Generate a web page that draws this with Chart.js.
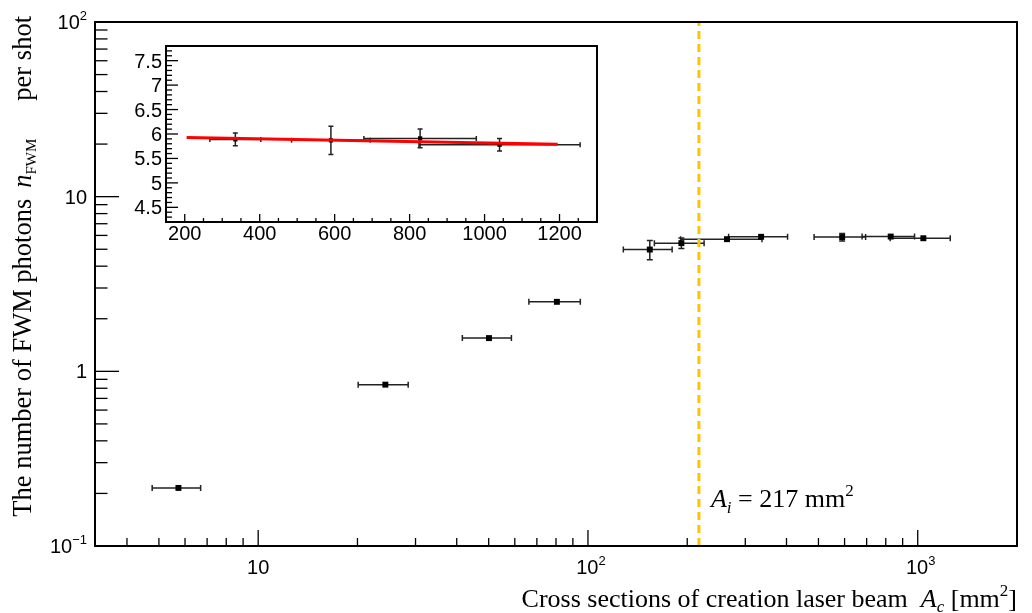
<!DOCTYPE html>
<html>
<head>
<meta charset="utf-8">
<script src="https://cdn.jsdelivr.net/npm/chart.js@4.4.1/dist/chart.umd.min.js"></script>
<style>
html, body { margin: 0; padding: 0; background: #fff; }
#wrap { position: relative; width: 1032px; height: 613px; }
#main { position: absolute; left: 0; top: 0; }
#inset { position: absolute; left: 100px; top: 35px; }
</style>
</head>
<body>
<div id="wrap">
<canvas id="main" width="1032" height="613"></canvas>
<canvas id="inset" width="510" height="215"></canvas>
</div>
<script>
// creation beam cross section A_c [mm^2] with its spread, and photons per shot
var areas     = [5.73, 24.3, 50.1, 80.5, 154, 192, 264, 335, 590, 828, 1040];
var areaErr   = [0.96, 4.2, 8.5, 14.3, 26, 33, 73, 68, 105, 150, 215];
var photons   = [0.215, 0.839, 1.55, 2.50, 4.98, 5.42, 5.71, 5.89, 5.87, 5.91, 5.78];
var photonErr = [0.004, 0.012, 0.02, 0.03, 0.63, 0.37, 0.08, 0.13, 0.29, 0.19, 0.13];

// points shown again in the inset (linear scale)
var insetFrom = 7;

// linear fit drawn in the inset
var fitX = [205, 1195];
var fitY = [5.93, 5.79];

// imaging beam cross section A_i
var imagingArea = 217;
var imagingSpan = [0.1, 100];

// tick labels: value, text, exponent
var xMajor = [10, 100, 1000];
var xLabels = [['10', ''], ['10', '2'], ['10', '3']];
var yMajor = [0.1, 1, 10, 100];
var yLabels = [['10', '\u22121'], ['1', ''], ['10', ''], ['10', '2']];
var insetXMajor = [200, 400, 600, 800, 1000, 1200];
var insetYMajor = [4.5, 5, 5.5, 6, 6.5, 7, 7.5];

function toPoints(from) {
	var pts = [];
	for (var i = from; i < areas.length; i++) {
		pts.push({x: areas[i], y: photons[i], xe: areaErr[i], ye: photonErr[i]});
	}
	return pts;
}

var errorBars = {
	id: 'errorBars',
	beforeDatasetsDraw: function (chart, args, opts) {
		var ctx = chart.ctx, xs = chart.scales.x, ys = chart.scales.y;
		var cap = opts.cap || 3;
		ctx.save();
		ctx.strokeStyle = '#222';
		ctx.lineWidth = 1.5;
		chart.data.datasets[0].data.forEach(function (p) {
			var px = xs.getPixelForValue(p.x), py = ys.getPixelForValue(p.y);
			var x0 = xs.getPixelForValue(p.x - p.xe), x1 = xs.getPixelForValue(p.x + p.xe);
			var y0 = ys.getPixelForValue(p.y - p.ye), y1 = ys.getPixelForValue(p.y + p.ye);
			ctx.beginPath();
			ctx.moveTo(x0, py); ctx.lineTo(x1, py);
			ctx.moveTo(x0, py - cap); ctx.lineTo(x0, py + cap);
			ctx.moveTo(x1, py - cap); ctx.lineTo(x1, py + cap);
			if (Math.abs(y1 - y0) > 2 * cap) {
				ctx.moveTo(px, y0); ctx.lineTo(px, y1);
				ctx.moveTo(px - cap, y0); ctx.lineTo(px + cap, y0);
				ctx.moveTo(px - cap, y1); ctx.lineTo(px + cap, y1);
			}
			ctx.stroke();
		});
		ctx.restore();
	}
};

var sans = '"Liberation Sans", Arial, sans-serif';
var serif = '"Liberation Serif", "Times New Roman", serif';

function drawRich(ctx, parts, x, y, align) {
	var total = 0;
	parts.forEach(function (p) { ctx.font = p.font; p.w = ctx.measureText(p.t).width + (p.gap || 0); total += p.w; });
	var cx = align === 'right' ? x - total : (align === 'center' ? x - total / 2 : x);
	parts.forEach(function (p) {
		ctx.font = p.font;
		ctx.fillText(p.t, cx + (p.gap || 0), y + (p.dy || 0));
		cx += p.w;
	});
}

// ROOT style frame with inward ticks and tick labels
var frameTicks = {
	id: 'frameTicks',
	afterDraw: function (chart, args, o) {
		var ctx = chart.ctx, a = chart.chartArea, xs = chart.scales.x, ys = chart.scales.y;
		ctx.save();
		ctx.strokeStyle = '#000';
		ctx.lineWidth = 1.3;
		o.xTicks.forEach(function (t) {
			var px = xs.getPixelForValue(t.v);
			if (px <= a.left + 1 || px >= a.right - 1) return;
			ctx.beginPath();
			ctx.moveTo(px, a.bottom);
			ctx.lineTo(px, a.bottom - (t.major ? o.xLen[0] : o.xLen[1]));
			ctx.stroke();
		});
		o.yTicks.forEach(function (t) {
			var py = ys.getPixelForValue(t.v);
			if (py <= a.top + 1 || py >= a.bottom - 1) return;
			ctx.beginPath();
			ctx.moveTo(a.left, py);
			ctx.lineTo(a.left + (t.major ? o.yLen[0] : o.yLen[1]), py);
			ctx.stroke();
		});
		ctx.lineWidth = 2;
		ctx.strokeRect(a.left, a.top, a.right - a.left, a.bottom - a.top);

		ctx.fillStyle = '#000';
		ctx.textBaseline = 'alphabetic';
		ctx.textAlign = 'left';
		var big = o.labelSize + 'px ' + sans, small = o.expSize + 'px ' + sans;
		o.xLab.forEach(function (l) {
			var parts = [{t: l[1], font: big}];
			if (l[2]) parts.push({t: l[2], font: small, dy: -o.expRise});
			drawRich(ctx, parts, xs.getPixelForValue(l[0]) + (l[2] ? 3 : 0), a.bottom + o.xBase, 'center');
		});
		o.yLab.forEach(function (l) {
			var parts = [{t: l[1], font: big}];
			if (l[2]) parts.push({t: l[2], font: small, dy: -o.expRise});
			drawRich(ctx, parts, a.left - o.yGap, ys.getPixelForValue(l[0]) + o.yBase, 'right');
		});
		ctx.restore();
	}
};

var titles = {
	id: 'titles',
	afterDraw: function (chart) {
		var ctx = chart.ctx, a = chart.chartArea;
		ctx.save();
		ctx.fillStyle = '#000';
		ctx.textBaseline = 'alphabetic';
		ctx.textAlign = 'left';
		drawRich(ctx, [
			{t: 'Cross sections of creation laser beam  ', font: '26px ' + serif},
			{t: 'A', font: 'italic 26px ' + serif},
			{t: 'c', font: 'italic 17px ' + serif, dy: 5},
			{t: ' [mm', font: '26px ' + serif},
			{t: '2', font: '17px ' + serif, dy: -11},
			{t: ']', font: '26px ' + serif}
		], a.right, 607, 'right');

		ctx.save();
		ctx.translate(31, 16);
		ctx.rotate(-Math.PI / 2);
		drawRich(ctx, [
			{t: 'The number of FWM photons', font: '26.5px ' + serif},
			{t: 'n', font: 'italic 26.5px ' + serif, gap: 11},
			{t: 'FWM', font: '15px ' + serif, dy: 5},
			{t: 'per shot', font: '26.5px ' + serif, gap: 38}
		], 0, 0, 'right');
		ctx.restore();

		var lx = chart.scales.x.getPixelForValue(imagingArea) + 12;
		drawRich(ctx, [
			{t: 'A', font: 'italic 26px ' + serif},
			{t: 'i', font: 'italic 17px ' + serif, dy: 6},
			{t: ' = 217 mm', font: '26px ' + serif},
			{t: '2', font: '17px ' + serif, dy: -11}
		], lx, 507, 'left');
		ctx.restore();
	}
};

function logTicks(lo, hi) {
	var list = [];
	for (var k = lo; k <= hi; k++) {
		for (var m = 1; m <= 9; m++) list.push({v: m * Math.pow(10, k), major: m === 1});
	}
	return list;
}

function linTicks(lo, hi, step, majorStep) {
	var list = [];
	for (var v = lo; v <= hi + 1e-9; v += step) {
		var r = Math.round(v * 1000) / 1000;
		list.push({v: r, major: Math.abs(r / majorStep - Math.round(r / majorStep)) < 1e-6});
	}
	return list;
}

function labelRows(values, labels) {
	return values.map(function (v, i) {
		return labels ? [v, labels[i][0], labels[i][1]] : [v, String(v), ''];
	});
}

function hiddenAxis(type, min, max, size, horizontal) {
	return {
		type: type, min: min, max: max,
		grid: {display: false}, border: {display: false},
		ticks: {display: false},
		afterFit: function (s) {
			if (horizontal) { s.height = size; s.paddingLeft = 0; s.paddingRight = 0; }
			else { s.width = size; s.paddingTop = 0; s.paddingBottom = 0; }
		}
	};
}

new Chart(document.getElementById('main'), {
	type: 'scatter',
	data: {
		datasets: [{
			data: toPoints(0),
			pointStyle: 'rect',
			pointRadius: 4.2,
			backgroundColor: '#000',
			borderWidth: 0,
			order: 1
		}, {
			type: 'line',
			showLine: true,
			data: imagingSpan.map(function (v) { return {x: imagingArea, y: v}; }),
			borderColor: 'rgb(255, 196, 0)',
			borderWidth: 3,
			borderDash: [8, 5],
			pointRadius: 0,
			order: 0
		}]
	},
	options: {
		responsive: false,
		animation: false,
		devicePixelRatio: 1,
		layout: {padding: {top: 22, right: 15, left: 0, bottom: 0}},
		plugins: {
			legend: {display: false},
			tooltip: {enabled: false},
			errorBars: {cap: 3},
			frameTicks: {
				xTicks: logTicks(0, 3), yTicks: logTicks(-1, 1), xLen: [16, 8], yLen: [24, 12.5],
				xLab: labelRows(xMajor, xLabels), yLab: labelRows(yMajor, yLabels),
				labelSize: 20, expSize: 13, expRise: 9, xBase: 28, yBase: 7, yGap: 8
			}
		},
		scales: {
			x: hiddenAxis('logarithmic', 3.2, 2000, 67, true),
			y: hiddenAxis('logarithmic', 0.1, 100, 95, false)
		}
	},
	plugins: [errorBars, frameTicks, titles]
});

new Chart(document.getElementById('inset'), {
	type: 'scatter',
	data: {
		datasets: [{
			data: toPoints(insetFrom),
			pointStyle: 'rect',
			pointRadius: 3,
			backgroundColor: '#000',
			borderWidth: 0,
			order: 1
		}, {
			type: 'line',
			showLine: true,
			data: fitX.map(function (x, i) { return {x: x, y: fitY[i]}; }),
			borderColor: '#ff0000',
			borderWidth: 3,
			pointRadius: 0,
			order: 0
		}]
	},
	options: {
		responsive: false,
		animation: false,
		devicePixelRatio: 1,
		layout: {padding: {top: 11, right: 13, left: 0, bottom: 0}},
		plugins: {
			legend: {display: false},
			tooltip: {enabled: false},
			errorBars: {cap: 2.5},
			frameTicks: {
				xTicks: linTicks(150, 1300, 50, 200), yTicks: linTicks(4.2, 7.8, 0.1, 0.5), xLen: [8, 4], yLen: [12, 6],
				xLab: labelRows(insetXMajor), yLab: labelRows(insetYMajor),
				labelSize: 20, expSize: 13, expRise: 9, xBase: 18, yBase: 7, yGap: 4
			}
		},
		scales: {
			x: hiddenAxis('linear', 150, 1300, 28, true),
			y: hiddenAxis('linear', 4.2, 7.8, 66, false)
		}
	},
	plugins: [errorBars, frameTicks]
});
</script>
</body>
</html>
